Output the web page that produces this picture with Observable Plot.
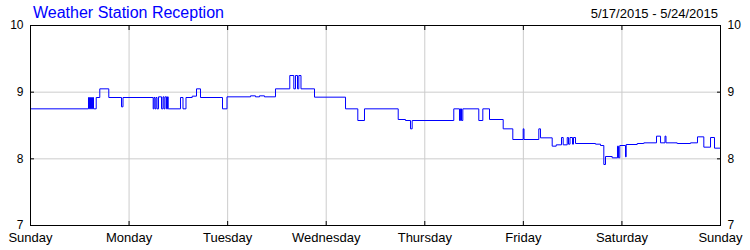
<!DOCTYPE html>
<html><head><meta charset="utf-8">
<script src="https://cdn.jsdelivr.net/npm/d3@7"></script>
<script src="https://cdn.jsdelivr.net/npm/@observablehq/plot@0.6"></script>
<style>
body{margin:0;background:#fff;font-family:"Liberation Sans",Arial,sans-serif;}
#wrap{position:relative;width:750px;height:250px;overflow:hidden;}
#title{position:absolute;left:33px;top:4px;font-size:16px;color:#0000ff;white-space:nowrap;}
#range{position:absolute;right:32px;top:6px;font-size:13px;color:#000;white-space:nowrap;}
</style></head><body>
<div id="wrap"><div id="chart"></div><div id="title">Weather Station Reception</div><div id="range">5/17/2015 - 5/24/2015</div></div>
<script>
const titleText = "Weather Station Reception";
const rangeText = "5/17/2015 - 5/24/2015";
const dayLabels = ["Sunday","Monday","Tuesday","Wednesday","Thursday","Friday","Saturday","Sunday"];
const xTicks = [0,24,48,72,96,120,144,168];
const yTicks = [7,8,9,10];
// hours since Sunday 5/17/2015 00:00
const hours = [0,14.12,14.37,14.61,14.85,15.10,15.34,16.00,16.87,19.06,22.16,22.52,29.87,30.07,30.31,30.56,30.80,31.17,31.90,32.26,32.50,32.75,33.11,33.36,33.53,36.52,37.13,37.86,39.37,40.42,41.39,46.75,47.84,53.57,54.78,55.76,56.97,59.65,63.13,64.11,64.52,65.01,65.33,65.86,69.15,76.70,79.69,81.32,89.53,91.30,92.52,92.93,103.06,104.45,104.69,104.94,105.26,109.15,110.13,111.76,115.09,117.43,119.96,120.16,123.76,124.17,127.02,128.00,129.29,129.70,130.68,130.99,131.36,131.97,132.21,132.70,137.57,138.79,139.59,140.00,141.63,142.92,143.16,143.48,144.87,145.04,147.72,149.33,152.42,153.40,154.49,154.73,157.46,160.70,162.40,163.94,165.57,166.54,168];
const values = [8.75,8.92,8.75,8.92,8.75,8.92,8.75,8.92,9.05,8.92,8.78,8.92,8.75,8.92,8.75,8.92,8.75,8.93,8.75,8.93,8.75,8.93,8.75,8.93,8.75,8.92,8.75,8.92,8.94,9.05,8.92,8.75,8.93,8.945,8.93,8.945,8.93,9.05,9.25,9.05,9.25,9.05,9.25,9.05,8.925,8.75,8.575,8.75,8.59,8.575,8.45,8.575,8.75,8.575,8.75,8.575,8.75,8.575,8.75,8.59,8.45,8.29,8.45,8.29,8.45,8.315,8.19,8.21,8.32,8.21,8.32,8.22,8.32,8.22,8.32,8.23,8.22,8.2,7.915,8.035,8.015,8.19,8.015,8.2,8.03,8.215,8.23,8.24,8.34,8.24,8.34,8.24,8.23,8.24,8.33,8.175,8.32,8.16,8.16];

document.getElementById("title").textContent = titleText;
document.getElementById("range").textContent = rangeText;

const data = hours.map((h, i) => ({h, v: values[i]}));

const chart = Plot.plot({
  width: 750, height: 250,
  marginLeft: 30, marginRight: 30, marginTop: 25, marginBottom: 25,
  style: {fontFamily: "'Liberation Sans', Arial, sans-serif", fontSize: "12px", color: "black", background: "white", overflow: "visible"},
  x: {domain: [0, 168]},
  y: {domain: [7, 10]},
  marks: [
    Plot.gridX(xTicks, {stroke: "#cccccc", strokeOpacity: 1}),
    Plot.gridY([8, 9], {stroke: "#cccccc", strokeOpacity: 1}),
    Plot.line(data, {x: "h", y: "v", curve: "step-after", stroke: "#0000ff", strokeWidth: 1}),
    Plot.frame({stroke: "black"}),
    Plot.axisX(xTicks, {anchor: "bottom", tickSize: -4, tickPadding: 11, tickFormat: (d, i) => dayLabels[i], fontSize: 13, label: null}),
    Plot.axisX(xTicks, {anchor: "top", tickSize: -4, tickFormat: () => "", label: null}),
    Plot.axisY(yTicks, {anchor: "left", tickSize: -4, tickPadding: 11, tickFormat: d => String(d), label: null}),
    Plot.axisY(yTicks, {anchor: "right", tickSize: -4, tickPadding: 11, tickFormat: d => String(d), label: null})
  ]
});
document.getElementById("chart").appendChild(chart);
</script>
</body></html>
